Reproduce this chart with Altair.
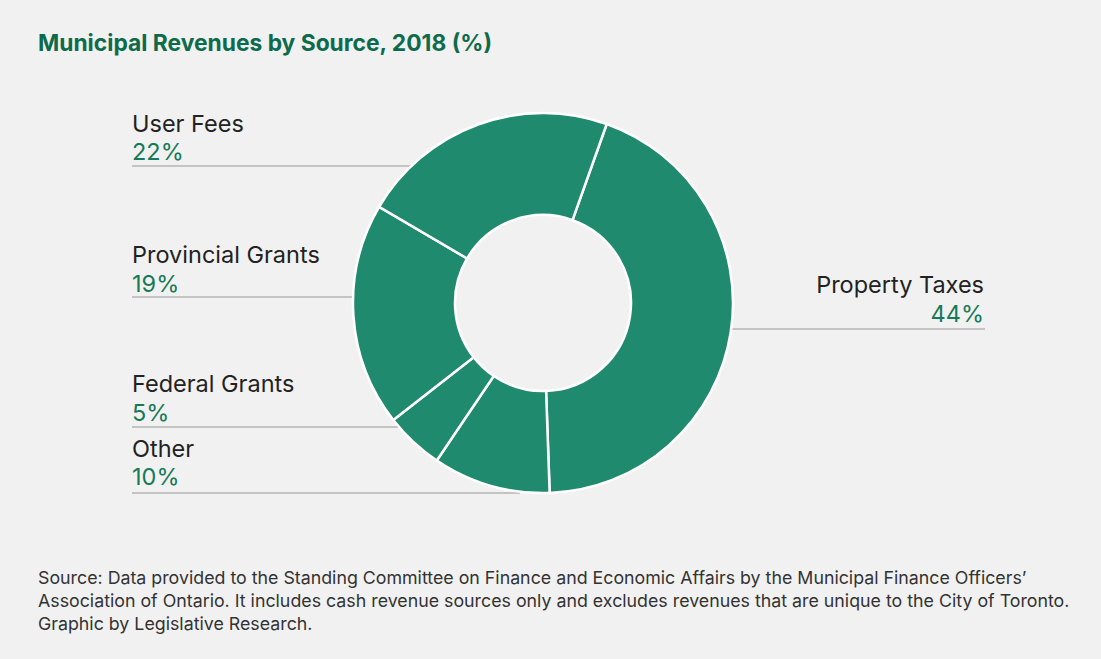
import math
import altair as alt
import pandas as pd

# ---- data ----
categories = ["Property Taxes", "Other", "Federal Grants", "Provincial Grants", "User Fees"]
shares = [44, 10, 5, 19, 22]
title_text = "Municipal Revenues by Source, 2018 (%)"
source_lines = [
    "Source: Data provided to the Standing Committee on Finance and Economic Affairs by the Municipal Finance Officers\u2019",
    "Association of Ontario. It includes cash revenue sources only and excludes revenues that are unique to the City of Toronto.",
    "Graphic by Legislative Research.",
]

df = pd.DataFrame({"category": categories, "share": shares, "order": list(range(len(categories)))})

# ---- layout / style ----
W, H = 1101, 659
CX, CY, R_OUT, R_IN = 543, 303, 190, 88
START = 0.342  # rotation of first slice (radians, clockwise from 12 o'clock)
GREEN = "#1f8a6e"
TITLE_GREEN = "#0d6b4c"
PCT_GREEN = "#167a58"
TEXT = "#222222"
LINE = "#b4b4b4"
BG = "#f1f1f1"
FONT = "Inter"
LBL_SIZE = 23.5

# per-label placement: x, align, name baseline y, pct baseline y, rule y, rule x1, rule x2
placement = {
    "User Fees": (132, "left", 132, 160, 166, 132, 425),
    "Provincial Grants": (132, "left", 263, 292, 297, 132, 365),
    "Federal Grants": (132, "left", 392, 421, 427, 132, 412),
    "Other": (132, "left", 457, 485, 493, 132, 520),
    "Property Taxes": (984, "right", 293, 322, 329, 720, 985),
}

base = alt.Chart(df)

layers = []
for cat, (lx, align, ny, py, ly, x1, x2) in placement.items():
    layers.append(
        base.transform_filter(alt.datum.category == cat)
        .mark_rule(color=LINE, strokeWidth=1.5)
        .encode(x=alt.value(x1), x2=alt.value(x2), y=alt.value(ly))
    )

donut = base.mark_arc(
    radius=R_OUT, radius2=R_IN, fill=GREEN, stroke="white", strokeWidth=2.5
).encode(
    theta=alt.Theta("share:Q", stack=True,
                    scale=alt.Scale(range=[START, START + 2 * math.pi])),
    order=alt.Order("order:Q"),
    x=alt.value(CX),
    y=alt.value(CY),
)
layers.append(donut)

for cat, (lx, align, ny, py, ly, x1, x2) in placement.items():
    sel = base.transform_filter(alt.datum.category == cat)
    layers.append(
        sel.mark_text(align=align, baseline="alphabetic", font=FONT,
                      fontSize=LBL_SIZE, color=TEXT)
        .encode(x=alt.value(lx), y=alt.value(ny), text="category:N")
    )
    layers.append(
        sel.transform_calculate(label="datum.share + '%'")
        .mark_text(align=align, baseline="alphabetic", font=FONT,
                   fontSize=LBL_SIZE, color=PCT_GREEN)
        .encode(x=alt.value(lx), y=alt.value(py), text="label:N")
    )

one = alt.Chart(pd.DataFrame({"t": [title_text]}))
title = one.mark_text(align="left", baseline="alphabetic", font=FONT, fontSize=22.8,
                      fontWeight="bold", color=TITLE_GREEN).encode(
    x=alt.value(38), y=alt.value(51), text="t:N")
layers.append(title)

foot = alt.Chart(pd.DataFrame({"k": [0]})).mark_text(
    text=source_lines, align="left", baseline="alphabetic", font=FONT,
    fontSize=17.8, lineHeight=23, color="#333333"
).encode(x=alt.value(38), y=alt.value(584))
layers.append(foot)

chart = alt.layer(*layers).properties(
    width=W, height=H, padding=0,
    autosize=alt.AutoSizeParams(type="none"),
    background=BG,
).configure_view(stroke=None)

chart.save("out.html", embed_options={"renderer": "svg", "actions": False})
